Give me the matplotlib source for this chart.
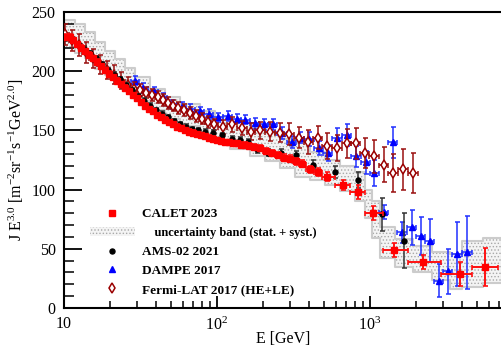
import numpy as np
import matplotlib
matplotlib.use('Agg')
import matplotlib.pyplot as plt
from matplotlib.lines import Line2D
from matplotlib.patches import Patch
from matplotlib.ticker import FixedLocator, FixedFormatter, LogLocator, NullFormatter, MultipleLocator

plt.rcParams['font.family'] = ['Liberation Serif', 'DejaVu Serif']
plt.rcParams['mathtext.fontset'] = 'custom'
plt.rcParams['mathtext.rm'] = 'Liberation Serif'
plt.rcParams['mathtext.it'] = 'Liberation Serif:italic'
plt.rcParams['mathtext.bf'] = 'Liberation Serif:bold'
plt.rcParams['hatch.linewidth'] = 0.6

# ---------------- data ----------------
calet_E = [10.3, 10.9, 11.5, 12.2, 12.9, 13.7, 14.6, 15.5, 16.4, 17.4, 18.5, 19.7, 20.9, 22.2,
           23.6, 25.0, 26.6, 28.2, 30.0, 31.9, 33.8, 35.9, 38.2, 40.5, 43.0, 45.7, 48.5, 51.5,
           54.7, 58.1, 61.7, 65.6, 69.6, 74.0, 78.5, 83.4, 88.6, 94.1, 99.9, 106, 113, 120,
           127, 135, 143, 152, 162, 174, 191, 209, 229, 250, 274, 300, 328, 359, 405, 457,
           524, 666, 835, 1046, 1435, 2220, 3870, 5650]
calet_J = [229, 229, 226, 223, 220, 217, 214, 211, 208, 204, 201, 198, 195, 192,
           189, 186, 183, 180, 177, 174, 171, 168, 166, 163, 161, 159, 157, 155,
           153, 152, 150, 149, 148, 147, 146, 145, 144, 143, 142, 141, 140, 140,
           139, 139, 138, 138, 137, 136, 135, 133, 131, 129, 127, 126, 124, 122, 117, 115,
           111, 104, 98, 80, 49, 39, 29, 35]
calet_err = [2] * 47 + [2.5, 2.5, 2.5, 2.5, 2.5, 3, 3, 3, 3, 3, 3.5, 3.5, 4, 6, 6, 6, 6, 10, 16]

band_E = [10, 11.8, 13.7, 15.9, 18.5, 21.5, 25.0, 29.1, 36.5, 45.7, 57.4, 77.4, 97, 121, 164,
          206, 258, 324, 404, 505, 635, 797, 925, 1030, 1160, 1460, 1910, 2560, 3330, 4020,
          5500, 7300]
band_lo = [220, 215, 211, 202, 197, 190, 183, 175, 167, 160, 154, 145, 139, 134, 128,
           124, 118, 111, 108, 104, 99, 90, 76, 59, 42, 35, 30, 24, 16, 18, 21, 21]
band_hi = [243, 240, 233, 225, 217, 210, 203, 195, 185, 178, 172, 166, 161, 157, 153,
           148, 143, 139, 132, 125, 120, 115, 100, 90, 68, 58, 52, 47, 46, 57, 59, 59]

ams_E = [10.3, 11.3, 12.3, 13.5, 14.8, 16.2, 17.7, 19.4, 21.2, 23.2, 25.4, 27.8, 30.5, 33.3,
         36.5, 39.9, 43.7, 47.8, 52.4, 57.3, 62.7, 68.6, 75.1, 83.5, 94.1, 108, 125, 141,
         159, 183, 215, 262, 328, 424, 591, 835, 1197, 1667]
ams_J = [228, 227, 223, 219, 215, 211, 206, 201, 197, 193, 188, 184, 179, 175,
         171, 167, 164, 161, 158, 155, 153, 151, 150, 149, 148, 146, 143, 142,
         140, 134, 131, 131, 129, 121, 115, 108, 79, 57]
ams_err = [2] * 25 + [2, 2.5, 2.5, 2.5, 3, 3, 3, 3.5, 4, 5, 7, 14, 23]

dampe_E = [29.1, 32.8, 38.8, 44.3, 50.8, 59.0, 66.6, 77.4, 88.6, 101.6, 118, 135, 152, 177,
           203, 232, 266, 309, 349, 399, 464, 531, 608, 708, 809, 942, 1062, 1236, 1413,
           1618, 1882, 2155, 2466, 2824, 3235, 3704, 4307]
dampe_J = [192, 186, 183, 178, 172, 170, 168, 166, 164, 161, 162, 160, 159, 156,
           155, 155, 148, 140, 144, 143, 135, 131, 144, 146, 128, 123, 114, 81, 140,
           64, 68, 61, 57, 23, 31, 46, 47]
dampe_err = [4, 4, 4, 4, 4, 4, 4, 4, 4, 4, 4, 4, 4, 4.5,
             4.5, 5, 5, 5, 5, 6, 6, 7, 8, 9, 9, 10, 11, 6, 13,
             9, 15, 16, 18, 14, 19, 27, 31]

fermi_E = [10.15, 11.3, 12.5, 13.9, 15.5, 17.2, 19.1, 21.2, 23.6, 26.2, 28.7, 31.4, 34.4, 37.6,
           41.1, 44.3, 47.8, 51.5, 55.6, 60.8, 66.6, 72.9, 79.8, 87.3, 95.5, 109, 125, 146,
           167, 191, 222, 258, 296, 344, 394, 457, 524, 608, 708, 809, 927, 1062, 1236,
           1413, 1643, 1910]
fermi_J = [231, 226, 222, 216, 211, 206, 201, 197, 192, 188, 185, 184, 182, 180,
           178, 176, 173, 171, 169, 167, 165, 162, 160, 157, 155, 153, 155, 152,
           149, 150, 149, 148, 147, 144, 140, 144, 137, 135, 139, 139, 131, 128, 121,
           114, 117, 114]
fermi_err = [9, 9, 9, 9, 8, 8, 8, 8, 7, 7, 6, 5, 5, 5,
             5, 5, 5, 5, 5, 5, 5, 5, 5, 5, 5, 6, 6, 6,
             7, 7, 8, 8, 9, 9, 10, 10, 11, 11, 12, 13, 13, 14, 15,
             16, 17, 17]

legend_labels = ['CALET 2023', '    uncertainty band (stat. + syst.)', 'AMS-02 2021',
                 'DAMPE 2017', 'Fermi-LAT 2017 (HE+LE)']


def bin_xerr(E):
    E = np.asarray(E, float)
    lg = np.log10(E)
    mid = (lg[1:] + lg[:-1]) / 2
    lo_edge = np.concatenate([[2 * lg[0] - mid[0]], mid])
    hi_edge = np.concatenate([mid, [2 * lg[-1] - mid[-1]]])
    return np.vstack([E - 10 ** lo_edge, 10 ** hi_edge - E])


# ---------------- figure ----------------
fig = plt.figure(figsize=(5.02, 3.49), dpi=100)
ax = fig.add_axes([64 / 502, 41 / 349, 438 / 502, 296 / 349])
ax.set_xscale('log')
ax.set_xlim(10, 7300)
ax.set_ylim(0, 250)

# uncertainty band
ax.fill_between(band_E, band_lo, band_hi, step='post', facecolor='#f4f4f4',
                edgecolor='#a8a8a8', hatch='.....', linewidth=0, zorder=1)
ax.fill_between(band_E, band_lo, band_hi, step='post', facecolor='none',
                edgecolor='#cccccc', linewidth=1.5, zorder=1.1)

ekw = dict(linestyle='none', capsize=1.8, elinewidth=1.1, capthick=1.1)
ax.errorbar(dampe_E, dampe_J, yerr=dampe_err, xerr=bin_xerr(dampe_E), marker='^',
            ms=4.0, color='#0000ff', ecolor='#2030ff', zorder=3, **ekw)
ax.errorbar(fermi_E, fermi_J, yerr=fermi_err, xerr=bin_xerr(fermi_E), marker='d',
            ms=4.6, mfc='white', mec='#9a0000', mew=1.1, color='#9a0000',
            ecolor='#9a1010', zorder=4, **ekw)
ax.errorbar(ams_E, ams_J, yerr=ams_err, marker='o', ms=3.6, color='black',
            ecolor='#333333', zorder=5, **ekw)
ax.errorbar(calet_E, calet_J, yerr=calet_err, xerr=bin_xerr(calet_E), marker='s',
            ms=4.8, color='#ff0000', ecolor='#ff1010', zorder=6,
            linestyle='none', capsize=1.8, elinewidth=1.4, capthick=1.2)

# axes styling
for s in ['left', 'bottom', 'top']:
    ax.spines[s].set_linewidth(1.5)
ax.spines['right'].set_visible(False)

ax.xaxis.set_major_locator(FixedLocator([10, 100, 1000]))
ax.xaxis.set_major_formatter(FixedFormatter(['10', '$10^2$', '$10^3$']))
ax.xaxis.set_minor_locator(LogLocator(base=10, subs=np.arange(2, 10)))
ax.xaxis.set_minor_formatter(NullFormatter())
ax.yaxis.set_major_locator(MultipleLocator(50))
ax.yaxis.set_minor_locator(MultipleLocator(10))
ax.tick_params(which='major', direction='in', length=9, width=1.3, labelsize=11.5,
               top=False, right=False, pad=6)
ax.tick_params(axis='y', which='major', length=13)
ax.tick_params(which='minor', direction='in', length=5, width=1.1, top=False, right=False)
ax.tick_params(axis='y', which='minor', length=7)

ax.set_xlabel('E [GeV]', fontsize=11.5, labelpad=-2)
ax.set_ylabel('J E$^{3.0}$ [m$^{-2}$sr$^{-1}$s$^{-1}$GeV$^{2.0}$]', fontsize=11.5, labelpad=4)

handles = [
    Line2D([], [], marker='s', ms=4.8, color='#ff0000', linestyle='none'),
    Patch(facecolor='#f4f4f4', edgecolor='#a8a8a8', hatch='.....', linewidth=0),
    Line2D([], [], marker='o', ms=3.6, color='black', linestyle='none'),
    Line2D([], [], marker='^', ms=4.0, color='#0000ff', linestyle='none'),
    Line2D([], [], marker='d', ms=4.6, mfc='white', mec='#9a0000', mew=1.1, linestyle='none'),
]
leg = ax.legend(handles, legend_labels, loc='upper left', bbox_to_anchor=(0.059, 0.337),
                frameon=False, prop={'weight': 'bold', 'size': 9.5}, handlelength=3.4,
                handletextpad=0.55, labelspacing=0.5, borderpad=0, borderaxespad=0)
leg.get_texts()[1].set_fontsize(9)

fig.savefig('out.png', dpi=100)
